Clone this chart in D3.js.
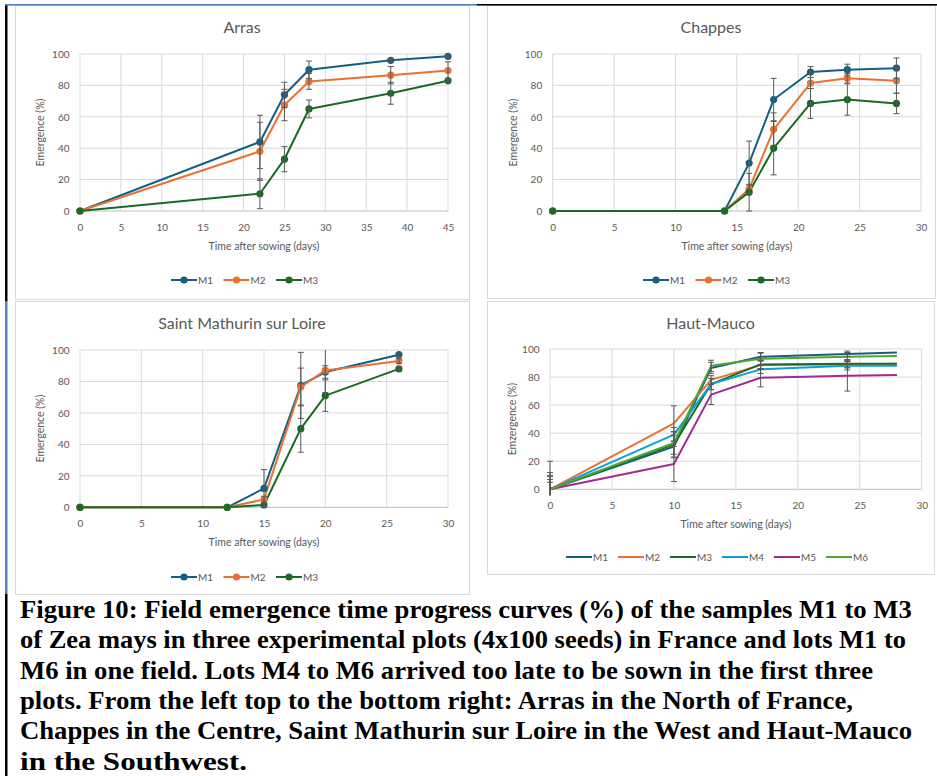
<!DOCTYPE html>
<html><head><meta charset="utf-8">
<script src="https://cdn.jsdelivr.net/npm/d3@7"></script>
<style>body{margin:0;background:#fff}svg{display:block}
.cap{font-family:"Liberation Serif",Tinos,"Times New Roman","Nimbus Roman","FreeSerif",Times,serif;font-weight:700;font-size:25px}</style>
</head><body>
<svg id="c" width="937" height="776"></svg>
<script>
// ---------- DATA ----------
const seriesNames = ["M1","M2","M3","M4","M5","M6"];
const yTickValues = [0,20,40,60,80,100];

const arrasDays = [0,22,25,28,38,45];
const arrasM1 = [0,44,74,90,96,98.5];
const arrasM1Err = [0,17,8,5.5,1,1];
const arrasM2 = [0,38,67.5,82.5,86.5,89.5];
const arrasM2Err = [0,18.5,10,5,5.5,5.5];
const arrasM3 = [0,11,33,65,75,83];
const arrasM3Err = [0,9.5,8,5.7,7,1];

const chappesDays = [0,14,16,18,21,24,28];
const chappesM1 = [0,0,30.5,71,88.5,90,91];
const chappesM1Err = [0,0,14,13.5,3.5,3.5,6.5];
const chappesM2 = [0,0,14,52,81.5,84.5,83];
const chappesM2Err = [0,0,3,10.5,3.5,3,8];
const chappesM3 = [0,0,12,40,68.5,71,68.5];
const chappesM3Err = [0,0,12,17,9.5,10,6.5];

const stMathurinDays = [0,12,15,18,20,26];
const stMathurinM1 = [0,0,12,77.5,86,97];
const stMathurinM1Err = [0,0,12,21,4,1];
const stMathurinM2 = [0,0,5,76.5,87,93];
const stMathurinM2Err = [0,0,2,12,14,1.5];
const stMathurinM3 = [0,0,1.5,50,71,88];
const stMathurinM3Err = [0,0,1,15,10,1.5];

const hautMaucoDays = [0,10,13,17,24,28];
const hautMaucoM1 = [0,30.5,86.5,94.5,96.5,97.5];
const hautMaucoM1Err = [5,8,4,3,2,0];
const hautMaucoM2 = [0,47,78,88.5,89,89.5];
const hautMaucoM2Err = [12,12.5,3,3,2,0];
const hautMaucoM3 = [0,32,75,89,89.5,89.5];
const hautMaucoM3Err = [7,9,4,3,3,0];
const hautMaucoM4 = [0,39,75,85.5,88,88];
const hautMaucoM4Err = [10,5,4,3,3,0];
const hautMaucoM5 = [0,18,67.5,79.5,81,81.5];
const hautMaucoM5Err = [20,12.5,7,6.5,11,0];
const hautMaucoM6 = [0,33,88,93,94.5,95];
const hautMaucoM6Err = [9,8,4,4,3,0];

const captionLines = [
 "Figure 10: Field emergence time progress curves (%) of the samples M1 to M3",
 "of Zea mays in three experimental plots (4x100 seeds) in France and lots M1 to",
 "M6 in one field. Lots M4 to M6 arrived too late to be sown in the first three",
 "plots. From the left top to the bottom right: Arras in the North of France,",
 "Chappes in the Centre, Saint Mathurin sur Loire in the West and Haut-Mauco",
 "in the Southwest."
];

// ---------- STYLE / LAYOUT ----------
const colors = ["#156082","#E97132","#196B24","#0F9ED5","#A02B93","#4EA72E"];
const FONT = "Lato, 'Noto Sans', sans-serif";
const TXT = "#595959";

const panels = [
 {title:"Arras", yTitle:"Emergence (%)", box:[15,5,469,299], plot:[80,54,448,211], xMax:45,
  days:arrasDays, vals:[arrasM1,arrasM2,arrasM3], errs:[arrasM1Err,arrasM2Err,arrasM3Err],
  markers:true, yTitleX:40, legendY:280, legendX:171},
 {title:"Chappes", yTitle:"Emergence (%)", box:[487,5,935,298], plot:[552.7,54,921,211], xMax:30,
  days:chappesDays, vals:[chappesM1,chappesM2,chappesM3], errs:[chappesM1Err,chappesM2Err,chappesM3Err],
  markers:true, yTitleX:513, legendY:280, legendX:643},
 {title:"Saint Mathurin sur Loire", yTitle:"Emergence (%)", box:[15,301,469,594], plot:[80,350,448,507.3], xMax:30,
  days:stMathurinDays, vals:[stMathurinM1,stMathurinM2,stMathurinM3], errs:[stMathurinM1Err,stMathurinM2Err,stMathurinM3Err],
  markers:true, yTitleX:40, legendY:577, legendX:171},
 {title:"Haut-Mauco", yTitle:"Emzergence (%)", box:[487,301,934,574], plot:[550,349,921.7,489.3], xMax:30,
  days:hautMaucoDays, vals:[hautMaucoM1,hautMaucoM2,hautMaucoM3,hautMaucoM4,hautMaucoM5,hautMaucoM6],
  errs:[hautMaucoM1Err,hautMaucoM2Err,hautMaucoM3Err,hautMaucoM4Err,hautMaucoM5Err,hautMaucoM6Err],
  markers:false, yTitleX:512, legendY:557, legendX:566}
];

const svg = d3.select("#c");
svg.append("rect").attr("width",937).attr("height",776).attr("fill","#fff");

panels.forEach((p,pi)=>{
  const [bx0,by0,bx1,by1] = p.box;
  const [px0,py0,px1,py1] = p.plot;
  const g = svg.append("g");
  g.append("rect").attr("x",bx0+0.5).attr("y",by0+0.5).attr("width",bx1-bx0).attr("height",by1-by0)
   .attr("fill","#fff").attr("stroke","#d9d9d9").attr("stroke-width",1);

  const x = d3.scaleLinear().domain([0,p.xMax]).range([px0,px1]);
  const y = d3.scaleLinear().domain([0,100]).range([py1,py0]);
  const xTicks = d3.range(0,p.xMax+1,5);

  g.append("g").selectAll("line").data(yTickValues).join("line")
   .attr("x1",px0).attr("x2",px1).attr("y1",d=>y(d)).attr("y2",d=>y(d))
   .attr("stroke",d=>d===0?"#bfbfbf":"#d9d9d9").attr("stroke-width",1);
  g.append("g").selectAll("line").data(xTicks).join("line")
   .attr("x1",d=>x(d)).attr("x2",d=>x(d)).attr("y1",py0).attr("y2",py1)
   .attr("stroke","#d9d9d9").attr("stroke-width",1);

  const yAx = g.append("g").attr("transform",`translate(${px0},0)`)
   .call(d3.axisLeft(y).tickValues(yTickValues).tickSize(0).tickPadding(10.5));
  const xAx = g.append("g").attr("transform",`translate(0,${py1})`)
   .call(d3.axisBottom(x).tickValues(xTicks).tickSize(0).tickPadding(13));
  [yAx,xAx].forEach(a=>{
    a.select(".domain").remove();
    a.selectAll("text").attr("fill",TXT).style("font-family",FONT).style("font-size","10px");
  });

  g.append("text").attr("x",(bx0+bx1)/2).attr("y",by0+28).attr("text-anchor","middle")
   .attr("fill",TXT).style("font-family",FONT).style("font-size","16px").text(p.title);
  g.append("text").attr("x",(px0+px1)/2).attr("y",py1+38.5).attr("text-anchor","middle")
   .attr("fill",TXT).style("font-family",FONT).style("font-size","10.5px").text("Time after sowing (days)");
  g.append("text").attr("transform",`translate(${p.yTitleX+3.5},${(py0+py1)/2}) rotate(-90)`)
   .attr("text-anchor","middle").attr("fill",TXT).style("font-family",FONT).style("font-size","10.5px").text(p.yTitle);

  const cid = "clip"+pi;
  svg.append("clipPath").attr("id",cid).append("rect")
   .attr("x",px0-6).attr("y",py0).attr("width",px1-px0+12).attr("height",py1-py0+6);

  const line = d3.line().x(d=>x(d[0])).y(d=>y(d[1]));
  const data = p.vals.map((vs,si)=>vs.map((v,i)=>[p.days[i],v,p.errs[si][i]]));

  data.forEach((pts,si)=>{
    g.append("path").datum(pts).attr("d",line).attr("fill","none")
     .attr("stroke",colors[si]).attr("stroke-width",2).attr("stroke-linejoin","round");
  });
  if(p.markers){
    data.forEach((pts,si)=>{
      g.append("g").selectAll("circle").data(pts).join("circle")
       .attr("cx",d=>x(d[0])).attr("cy",d=>y(d[1])).attr("r",3.6).attr("fill",colors[si]);
    });
  }
  const eg = g.append("g").attr("clip-path",`url(#${cid})`);
  data.forEach((pts,si)=>{
    const ep = pts.filter(d=>d[2]>0);
    const bars = eg.append("g");
    bars.selectAll("line.v").data(ep).join("line").attr("class","v")
     .attr("x1",d=>x(d[0])).attr("x2",d=>x(d[0]))
     .attr("y1",d=>y(Math.min(105,d[1]+d[2]))).attr("y2",d=>y(Math.max(-5,d[1]-d[2])))
     .attr("stroke","#595959").attr("stroke-width",1);
    bars.selectAll("line.t").data(ep.filter(d=>d[1]+d[2]<=100.5)).join("line").attr("class","t")
     .attr("x1",d=>x(d[0])-3).attr("x2",d=>x(d[0])+3).attr("y1",d=>y(d[1]+d[2])).attr("y2",d=>y(d[1]+d[2]))
     .attr("stroke","#595959").attr("stroke-width",1);
    bars.selectAll("line.b").data(ep.filter(d=>d[1]-d[2]>=-0.5)).join("line").attr("class","b")
     .attr("x1",d=>x(d[0])-3).attr("x2",d=>x(d[0])+3).attr("y1",d=>y(d[1]-d[2])).attr("y2",d=>y(d[1]-d[2]))
     .attr("stroke","#595959").attr("stroke-width",1);
  });

  const lg = g.append("g");
  const names = seriesNames.slice(0,p.vals.length);
  const spacing = p.markers ? 52.5 : 52;
  names.forEach((n,i)=>{
    const lx = p.legendX + i*spacing;
    lg.append("line").attr("x1",lx).attr("x2",lx+26).attr("y1",p.legendY).attr("y2",p.legendY)
      .attr("stroke",colors[i]).attr("stroke-width",2);
    if(p.markers) lg.append("circle").attr("cx",lx+13).attr("cy",p.legendY).attr("r",3.6).attr("fill",colors[i]);
    lg.append("text").attr("x",lx+27).attr("y",p.legendY+3.6).attr("fill",TXT)
      .style("font-family",FONT).style("font-size","10px").text(n);
  });
});

// frame lines
svg.append("rect").attr("x",5).attr("y",5).attr("width",2.5).attr("height",296).attr("fill","#000");
svg.append("rect").attr("x",5).attr("y",301).attr("width",2.5).attr("height",293).attr("fill","#4f81bd");
svg.append("rect").attr("x",5).attr("y",594).attr("width",2.5).attr("height",182).attr("fill","#000");
svg.append("rect").attr("x",5).attr("y",4).attr("width",472).attr("height",1.6).attr("fill","#4f81bd");
svg.append("rect").attr("x",477).attr("y",4).attr("width",460).attr("height",1.6).attr("fill","#000");

// caption
const capEnds = [912,906,873,853,912,247];
svg.append("g").selectAll("text").data(captionLines).join("text")
 .attr("class","cap")
 .attr("x",20).attr("y",(d,i)=>618+i*30.3)
 .attr("textLength",(d,i)=>capEnds[i]-20).attr("lengthAdjust","spacingAndGlyphs")
 .attr("fill","#000").text(d=>d);
</script>
</body></html>
